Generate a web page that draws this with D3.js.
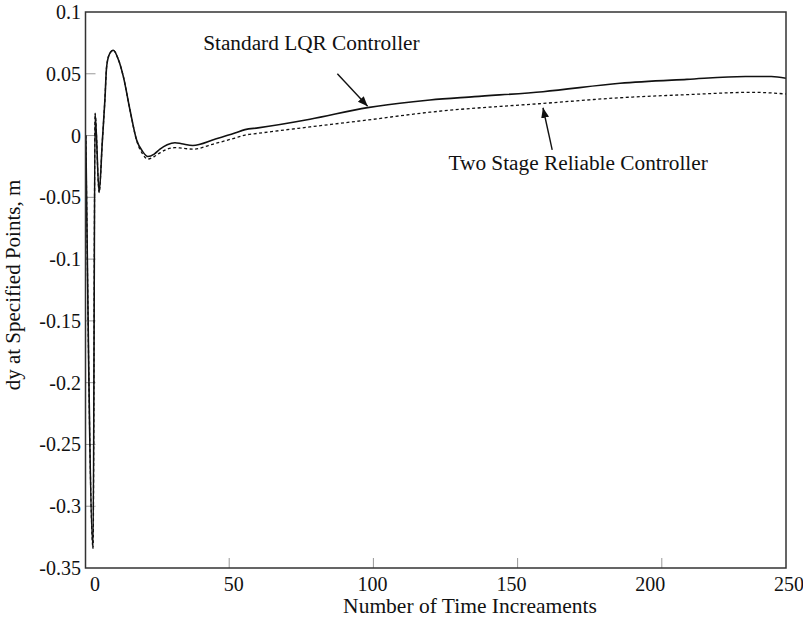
<!DOCTYPE html>
<html>
<head>
<meta charset="utf-8">
<script src="https://cdn.jsdelivr.net/npm/d3@7"></script>
<style>
  body { margin: 0; background: #fff; }
  svg { display: block; }
</style>
</head>
<body>
<svg id="chart" width="803" height="623" font-family="'Liberation Serif', 'DejaVu Serif', serif"></svg>
<script>
// time increments and responses
const lqrX = [0.3, 2.8, 3.5, 4.9, 6.0, 6.9, 7.5, 8.5, 9.8, 11.5, 13.3, 15.6, 17.9, 20.0, 21.8, 24.0, 26.0, 28.5, 31.2, 33.5, 37.4, 45, 52, 55.5, 60, 78, 98, 113.8, 119.6, 135, 158.8, 185.5, 208.7, 229, 238, 243.2];
const lqrY = [0, -0.334, 0.018, -0.046, -0.005, 0.029, 0.0557, 0.066, 0.069, 0.062, 0.0477, 0.0207, -0.0036, -0.013, -0.017, -0.015, -0.011, -0.0075, -0.0058, -0.0066, -0.008, -0.003, 0.002, 0.0048, 0.0062, 0.0132, 0.0226, 0.0274, 0.0288, 0.0315, 0.0355, 0.0423, 0.0455, 0.0478, 0.0478, 0.0463];

const relX = [0.3, 2.8, 3.5, 4.9, 6.0, 6.9, 7.5, 8.5, 9.8, 11.5, 13.3, 15.6, 17.9, 20.0, 21.8, 24.0, 26.0, 28.5, 31.2, 33.5, 37.4, 45, 52, 55.5, 60, 78, 98, 119.6, 158.8, 185.5, 208.7, 231.6, 243.2];
const relY = [0, -0.334, 0.018, -0.046, -0.005, 0.029, 0.0557, 0.066, 0.069, 0.062, 0.0477, 0.0207, -0.004, -0.015, -0.019, -0.017, -0.014, -0.011, -0.0098, -0.0102, -0.011, -0.0065, -0.002, 0.0004, 0.0018, 0.007, 0.0126, 0.0189, 0.026, 0.0306, 0.0331, 0.035, 0.0336];

const xTicks = [0, 50, 100, 150, 200, 250];
const yTicks = [0.1, 0.05, 0, -0.05, -0.1, -0.15, -0.2, -0.25, -0.3, -0.35];

// annotation: text anchor point, arrow tail, arrow head (data units)
const notes = [
  { label: "Standard LQR Controller", tx: 78.5, ty: 0.0692, from: [87.5, 0.0500], to: [98, 0.0237] },
  { label: "Two Stage Reliable Controller", tx: 171, ty: -0.0279, from: [162, -0.0116], to: [158.8, 0.0225] }
];

const svg = d3.select("#chart");
const frame = { left: 85.5, right: 786, top: 12, bottom: 568 };

const x = d3.scaleLinear().domain([0, 250]).range([85, 806]);
const xLab = d3.scaleLinear().domain([0, 250]).range([95, 789]);
const y = d3.scaleLinear().domain([-0.35, 0.1]).range([frame.bottom, frame.top]);

svg.append("defs").append("clipPath").attr("id", "clip")
  .append("rect")
  .attr("x", frame.left).attr("y", frame.top)
  .attr("width", frame.right - frame.left).attr("height", frame.bottom - frame.top);

svg.append("defs").append("marker")
  .attr("id", "arrow")
  .attr("viewBox", "0 0 10 10")
  .attr("refX", 10).attr("refY", 5)
  .attr("markerWidth", 10).attr("markerHeight", 10)
  .attr("markerUnits", "userSpaceOnUse")
  .attr("orient", "auto")
  .append("path").attr("d", "M0,1 L10,5 L0,9 Z").attr("fill", "#111");

// ticks (inside the box, grey)
svg.append("g").selectAll("line").data(yTicks.slice(1, -1)).join("line")
  .attr("x1", frame.left).attr("x2", frame.left + 10)
  .attr("y1", d => y(d)).attr("y2", d => y(d))
  .attr("stroke", "#999").attr("stroke-width", 1);

svg.append("g").selectAll("line").data(xTicks.slice(1, -1)).join("line")
  .attr("x1", d => x(d)).attr("x2", d => x(d))
  .attr("y1", frame.bottom).attr("y2", frame.bottom - 10)
  .attr("stroke", "#999").attr("stroke-width", 1);

// tick labels
svg.append("g").selectAll("text").data(yTicks).join("text")
  .attr("x", 81).attr("y", d => y(d))
  .attr("dy", "0.35em")
  .attr("text-anchor", "end")
  .attr("font-size", 20)
  .attr("fill", "#111")
  .text(d => d3.format("")(d).replace("−", "-"));

svg.append("g").selectAll("text").data(xTicks).join("text")
  .attr("x", d => xLab(d)).attr("y", 591)
  .attr("text-anchor", "middle")
  .attr("font-size", 20)
  .attr("fill", "#111")
  .text(d => d);

// lines
const lineGen = d3.line().x(d => x(d[0])).y(d => y(d[1])).curve(d3.curveMonotoneX);
const plot = svg.append("g").attr("clip-path", "url(#clip)");

plot.append("path")
  .datum(relX.map((v, i) => [v, relY[i]]))
  .attr("d", lineGen)
  .attr("fill", "none")
  .attr("stroke", "#111")
  .attr("stroke-width", 1.3)
  .attr("stroke-dasharray", "3,2.5");

plot.append("path")
  .datum(lqrX.map((v, i) => [v, lqrY[i]]))
  .attr("d", lineGen)
  .attr("fill", "none")
  .attr("stroke", "#111")
  .attr("stroke-width", 1.6);

// frame
svg.append("rect")
  .attr("x", frame.left).attr("y", frame.top)
  .attr("width", frame.right - frame.left).attr("height", frame.bottom - frame.top)
  .attr("fill", "none")
  .attr("stroke", "#333")
  .attr("stroke-width", 1.5);

// annotations
notes.forEach(n => {
  svg.append("text")
    .attr("x", x(n.tx)).attr("y", y(n.ty))
    .attr("text-anchor", "middle")
    .attr("font-size", 21.3)
    .attr("fill", "#111")
    .text(n.label);
  svg.append("line")
    .attr("x1", x(n.from[0])).attr("y1", y(n.from[1]))
    .attr("x2", x(n.to[0])).attr("y2", y(n.to[1]))
    .attr("stroke", "#111").attr("stroke-width", 1.4)
    .attr("marker-end", "url(#arrow)");
});

// axis titles
svg.append("text")
  .attr("x", 470).attr("y", 613)
  .attr("text-anchor", "middle")
  .attr("font-size", 21.5)
  .attr("fill", "#111")
  .text("Number of Time Increaments");

svg.append("text")
  .attr("transform", "translate(20, 285) rotate(-90)")
  .attr("text-anchor", "middle")
  .attr("font-size", 21)
  .attr("fill", "#111")
  .text("dy at Specified Points, m");
</script>
</body>
</html>
